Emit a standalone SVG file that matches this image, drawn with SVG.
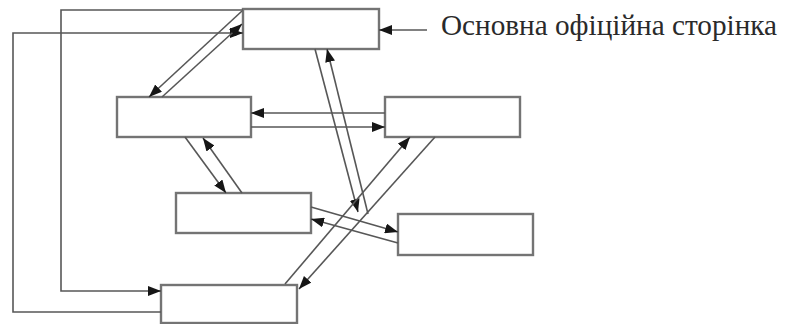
<svg xmlns="http://www.w3.org/2000/svg" width="789" height="324" viewBox="0 0 789 324">
  <style>
    .box { fill: #ffffff; stroke: #747474; stroke-width: 2.4; }
    .link { fill: none; stroke: #575757; stroke-width: 1.6; marker-end: url(#head); }
    .label { font-family: "Liberation Serif", "Times New Roman", serif; font-size: 29px; fill: #2a2a2a; }
  </style>
  <defs>
    <marker id="head" markerUnits="userSpaceOnUse" markerWidth="13" markerHeight="10" refX="13" refY="5" orient="auto">
      <path d="M0,0 L13,5 L0,10 z" fill="#161616"/>
    </marker>
  </defs>

  <rect width="789" height="324" fill="#ffffff"/>

  <!-- pages -->
  <g id="page-main"><rect class="box" x="243" y="9" width="136" height="40"/></g>
  <g id="page-left"><rect class="box" x="117" y="97" width="134" height="40"/></g>
  <g id="page-right"><rect class="box" x="385" y="97" width="135" height="40"/></g>
  <g id="page-center"><rect class="box" x="176" y="193" width="135" height="40"/></g>
  <g id="page-lower-right"><rect class="box" x="398" y="214" width="135" height="41"/></g>
  <g id="page-bottom"><rect class="box" x="161" y="285" width="136" height="38"/></g>

  <!-- links between pages -->
  <g id="connectors">
    <path class="link" d="M243,10 H61 V291 H161"/>
    <path class="link" d="M161,312 H13 V33 H243"/>
    <path class="link" d="M242,11 L149,97"/>
    <path class="link" d="M162,97 L242,24"/>
    <path class="link" d="M385,113 H251"/>
    <path class="link" d="M251,127 H385"/>
    <path class="link" d="M185,137 L226,193"/>
    <path class="link" d="M242,193 L203,138"/>
    <path class="link" d="M315,49 L358,212"/>
    <path class="link" d="M368,214 L327,49"/>
    <path class="link" d="M311,207 L398,232"/>
    <path class="link" d="M398,243 L311,219"/>
    <path class="link" d="M285,284 L410,137"/>
    <path class="link" d="M435,137 L299,289"/>
    <path class="link" d="M427,30 H379"/>
  </g>

  <g id="caption">
    <text class="label" x="441" y="35" textLength="336" lengthAdjust="spacingAndGlyphs">Основна офіційна сторінка</text>
  </g>
</svg>
